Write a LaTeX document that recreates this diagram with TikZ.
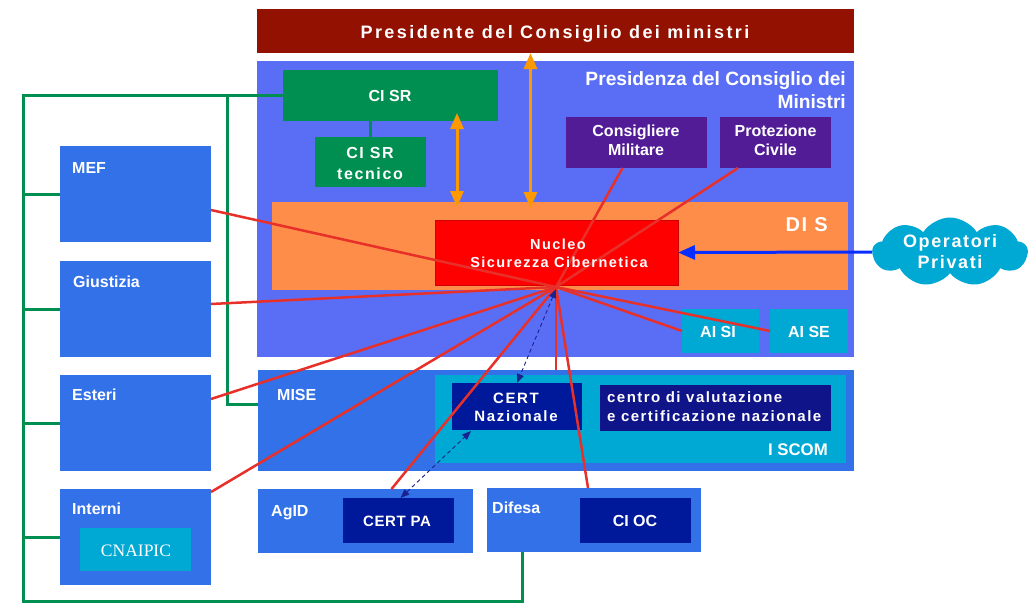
\documentclass[tikz,border=0pt]{standalone}
\usepackage{fontspec}
\setmainfont{Liberation Sans}
\newfontfamily\cnaipicfont{Liberation Serif}
\usetikzlibrary{shapes.symbols,arrows.meta,calc}
\definecolor{presred}{HTML}{931100}
\definecolor{pcmblue}{HTML}{5A6EF5}
\definecolor{midblue}{HTML}{3371E8}
\definecolor{cgreen}{HTML}{008F50}
\definecolor{cpurple}{HTML}{521C96}
\definecolor{disor}{HTML}{FE8D49}
\definecolor{nucred}{HTML}{FF0000}
\definecolor{nucborder}{HTML}{D00000}
\definecolor{ccyan}{HTML}{00A8D4}
\definecolor{navy}{HTML}{00189A}
\definecolor{navytwo}{HTML}{101489}
\definecolor{redline}{HTML}{E8302A}
\definecolor{orarrow}{HTML}{FF9900}
\definecolor{bluearrow}{HTML}{0A2DFF}
\definecolor{dashblue}{HTML}{1A2290}
\tikzset{
  rectbox/.style={draw=none,inner sep=0pt,outer sep=0pt,anchor=north west},
  lbl/.style={text=white,inner sep=0pt,font=\bfseries\fontsize{16}{19}\selectfont},
  slbl/.style={text=white,inner sep=0pt,font=\bfseries\fontsize{#1}{19}\selectfont},
  gline/.style={draw=cgreen,line width=3pt},
  redl/.style={draw=redline,line width=2.5pt},
  oarr/.style={draw=orarrow,line width=3pt,{Triangle[length=16pt,width=13pt]}-{Triangle[length=16pt,width=13pt]}},
  barr/.style={draw=bluearrow,line width=3pt,-{Triangle[length=17pt,width=14pt]}},
  darr/.style={draw=dashblue,line width=0.9pt,dash pattern=on 4pt off 3pt,{Triangle[length=9pt,width=7pt]}-{Triangle[length=9pt,width=7pt]}}
}
\begin{document}
\begin{tikzpicture}[x=1pt,y=-1pt]
\useasboundingbox[fill=white] (0,0) rectangle (1032,613);
% boxes
\node[rectbox,fill=presred,minimum width=597pt,minimum height=44pt] (pres) at (257,9) {};
\node[rectbox,fill=pcmblue,minimum width=597pt,minimum height=296pt] (pcm) at (257,61) {};
\node[rectbox,fill=cgreen,minimum width=215pt,minimum height=51pt] (cisr) at (283,70) {};
\node[rectbox,fill=cgreen,minimum width=111pt,minimum height=50pt] (cisrt) at (315,137) {};
\node[rectbox,fill=cpurple,minimum width=141pt,minimum height=51pt] (cm) at (566,117) {};
\node[rectbox,fill=cpurple,minimum width=111pt,minimum height=51pt] (pc) at (720,117) {};
\node[rectbox,fill=disor,minimum width=576pt,minimum height=88pt] (dis) at (272,202) {};
\node[rectbox,fill=nucred,draw=nucborder,line width=1pt,minimum width=243pt,minimum height=65pt] (nuc) at (435,220) {};
\node[rectbox,fill=ccyan,minimum width=77pt,minimum height=44pt] (aisi) at (682,309) {};
\node[rectbox,fill=ccyan,minimum width=78pt,minimum height=44pt] (aise) at (770,309) {};
\node[rectbox,fill=midblue,minimum width=596pt,minimum height=101pt] (mise) at (258,370) {};
\node[rectbox,fill=ccyan,minimum width=411pt,minimum height=88pt] (iscom) at (435,375) {};
\node[rectbox,fill=navy,minimum width=130pt,minimum height=47pt] (certn) at (452,383) {};
\node[rectbox,fill=navytwo,minimum width=231pt,minimum height=46pt] (cvcn) at (600,385) {};
\node[rectbox,fill=midblue,minimum width=215pt,minimum height=64pt] (agid) at (258,489) {};
\node[rectbox,fill=navy,minimum width=111pt,minimum height=45pt] (certpa) at (343,498) {};
\node[rectbox,fill=midblue,minimum width=214pt,minimum height=64pt] (difesa) at (487,488) {};
\node[rectbox,fill=navy,minimum width=111pt,minimum height=45pt] (cioc) at (580,498) {};
\node[rectbox,fill=midblue,minimum width=151pt,minimum height=96pt] (mef) at (60,146) {};
\node[rectbox,fill=midblue,minimum width=151pt,minimum height=96pt] (giu) at (60,261) {};
\node[rectbox,fill=midblue,minimum width=151pt,minimum height=96pt] (est) at (60,375) {};
\node[rectbox,fill=midblue,minimum width=151pt,minimum height=96pt] (int) at (60,489) {};
\node[rectbox,fill=ccyan,minimum width=111pt,minimum height=43pt] (cnaipic) at (80,528) {};
\node[cloud,cloud puffs=9,cloud puff arc=115,aspect=2.3,fill=ccyan,inner sep=0pt,minimum width=155pt,minimum height=69pt] (op) at (950,252) {};
% green connectors
\coordinate (gx) at (23,601);
\coordinate (ix) at (227,0);
\draw[gline] (cisr.west) -| (gx) -| ($(difesa.south west)+(35,0)$);
\draw[gline] (ix |- cisr.west) |- ($(mise.west)+(0,-16.5)$);
\draw[gline] (mef.west) -- (mef.west -| gx);
\draw[gline] (giu.west) -- (giu.west -| gx);
\draw[gline] (est.west) -- (est.west -| gx);
\draw[gline] (int.west) -- (int.west -| gx);
\draw[gline] (cisrt.north) -- (cisrt.north |- cisr.south);
% red connectors
\coordinate (hub) at (556,287);
\draw[redl] (hub) -- ([yshift=-16pt]mef.east);
\draw[redl] (hub) -- ([yshift=5pt]giu.east);
\draw[redl] (hub) -- ([yshift=24pt]est.east);
\draw[redl] (hub) -- ([yshift=-3pt]int.north east);
\draw[redl] (hub) -- ($(certpa.north |- agid.north)+(-7,0)$);
\draw[redl] (hub) -- ($(cioc.north west |- difesa.north)+(8,0)$);
\draw[redl] (hub) -- (hub |- mise.north);
\draw[redl] (hub) -- (aisi.west);
\draw[redl] (hub) -- (aise.west);
\draw[redl] (hub) -- ($(cm.south)+(-14,0)$);
\draw[redl] (hub) -- ($(pc.south)+(-37.5,0)$);
% arrows
\draw[oarr] ($(pres.south)+(-25,0)$) -- ($(pres.south |- dis.north)+(-25,6)$);
\draw[oarr] ($(cisr.south)+(66.5,-8)$) -- ($(cisr.south |- dis.north)+(66.5,5)$);
\draw[barr] (op.west) -- (nuc.east);
\draw[darr] ($(hub)+(0,2)$) -- (certn.north);
\draw[darr] ($(certpa.north)+(2,0)$) -- ($(certn.south)+(-46,1)$);
% labels
\node[slbl=18,anchor=base] (tpres) at (555,38) {\addfontfeature{LetterSpace=13.5}Presidente del Consiglio dei ministri};
\node[slbl=19.2,anchor=base east] (tpcm1) at (846,85) {Presidenza del Consiglio dei};
\node[slbl=19.2,anchor=base east] (tpcm2) at (846,108) {Ministri};
\node[lbl,anchor=base] (tcisr) at (390,101) {CI SR};
\node[lbl,anchor=base] (tcisrt1) at (370,158) {\addfontfeature{LetterSpace=10}CI SR};
\node[lbl,anchor=base] (tcisrt2) at (370,179) {\addfontfeature{LetterSpace=10}tecnico};
\node[lbl,anchor=base] (tcm1) at (636,136) {Consigliere};
\node[lbl,anchor=base] (tcm2) at (636,155) {Militare};
\node[lbl,anchor=base] (tpc1) at (775.5,136) {Protezione};
\node[lbl,anchor=base] (tpc2) at (775.5,155) {Civile};
\node[slbl=20,anchor=base east] (tdis) at (828,231) {\addfontfeature{LetterSpace=8}DI S};
\node[slbl=14.5,anchor=base] (tnuc1) at (558,249) {\addfontfeature{LetterSpace=10}Nucleo};
\node[slbl=14.5,anchor=base] (tnuc2) at (559,267) {\addfontfeature{LetterSpace=10}Sicurezza Cibernetica};
\node[slbl=18,anchor=base] (top1) at (950,247) {\addfontfeature{LetterSpace=9}Operatori};
\node[slbl=18,anchor=base] (top2) at (950,268) {\addfontfeature{LetterSpace=9}Privati};
\node[lbl,anchor=base] (taisi) at (718,337) {AI SI};
\node[lbl,anchor=base] (taise) at (809,337) {AI SE};
\node[lbl,anchor=base west] (tmef) at (72,173) {MEF};
\node[lbl,anchor=base west] (tgiu) at (73,287) {Giustizia};
\node[lbl,anchor=base west] (test) at (72,400) {Esteri};
\node[lbl,anchor=base west] (tint) at (72,514) {Interni};
\node[lbl,anchor=base west] (tmise) at (277,400) {MISE};
\node[lbl,anchor=base west] (tagid) at (271,516) {AgID};
\node[lbl,anchor=base west] (tdif) at (492,513) {Difesa};
\node[slbl=15,anchor=base] (tcn1) at (516,403) {\addfontfeature{LetterSpace=11}CERT};
\node[slbl=15,anchor=base] (tcn2) at (516,421) {\addfontfeature{LetterSpace=11}Nazionale};
\node[slbl=15,anchor=base west] (tcv1) at (607,402) {\addfontfeature{LetterSpace=9.6}centro di valutazione};
\node[slbl=15,anchor=base west] (tcv2) at (607,421) {\addfontfeature{LetterSpace=9.6}e certificazione nazionale};
\node[slbl=16.8,anchor=base east] (tiscom) at (828,455) {I SCOM};
\node[slbl=15,anchor=base] (tcpa) at (397,526) {\addfontfeature{LetterSpace=4}CERT PA};
\node[lbl,anchor=base] (tcioc) at (635,526) {CI OC};
\node[text=white,inner sep=0pt,anchor=base,font=\cnaipicfont\fontsize{17.5}{20}\selectfont] (tcnaipic) at (136,556) {CNAIPIC};
\end{tikzpicture}
\end{document}
